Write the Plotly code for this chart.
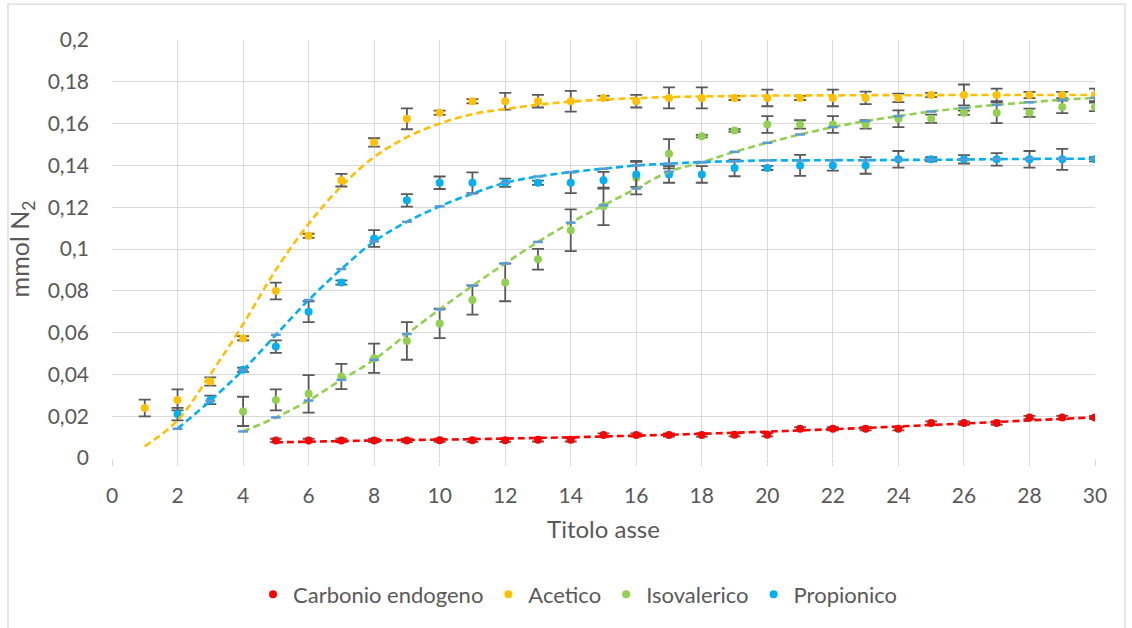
import plotly.graph_objects as go

# ---------------- data ----------------
x_red = list(range(5, 31))
red = [0.0084, 0.0084, 0.0084, 0.0084, 0.0084, 0.0085, 0.0085, 0.0085, 0.0087, 0.0087,
       0.011, 0.011, 0.011, 0.011, 0.0111, 0.0111, 0.014, 0.014, 0.014, 0.014,
       0.0167, 0.0167, 0.0167, 0.0194, 0.0194, 0.0194]
red_err = [0.0008] * 26
red_fit = [0.0075, 0.0078, 0.0081, 0.0084, 0.0086, 0.0088, 0.009, 0.0093, 0.0096, 0.0099,
           0.0103, 0.0107, 0.0111, 0.0116, 0.0121, 0.0126, 0.0132, 0.0138, 0.0144, 0.0151,
           0.0158, 0.0165, 0.0172, 0.018, 0.0187, 0.0195]

x_ac = list(range(1, 31))
acetico = [0.0239, 0.0278, 0.0366, 0.0573, 0.0799, 0.1063, 0.1329, 0.151, 0.1623, 0.1652,
           0.1707, 0.1707, 0.1707, 0.1707, 0.1723, 0.1707, 0.1723, 0.1723, 0.1723, 0.1723,
           0.1723, 0.1723, 0.1723, 0.1723, 0.1737, 0.1737, 0.1737, 0.1737, 0.1737, 0.1737]
acetico_err = [0.004, 0.005, 0.002, 0.001, 0.004, 0.001, 0.003, 0.002, 0.005, 0.001,
               0.001, 0.004, 0.003, 0.005, 0.001, 0.003, 0.005, 0.005, 0.001, 0.004,
               0.001, 0.004, 0.003, 0.002, 0.001, 0.005, 0.003, 0.0015, 0.0015, 0.003]
acetico_fit = [0.0056, 0.018, 0.040, 0.064, 0.090, 0.112, 0.130, 0.144, 0.1535, 0.160,
               0.1645, 0.167, 0.169, 0.1705, 0.1715, 0.1722, 0.1727, 0.173, 0.1732, 0.1734,
               0.1735, 0.1735, 0.1736, 0.1736, 0.1736, 0.1737, 0.1737, 0.1737, 0.1737, 0.1737]

x_iso = list(range(4, 31))
isovalerico = [0.0223, 0.0278, 0.0307, 0.039, 0.0477, 0.056, 0.0644, 0.0756, 0.084, 0.0951,
               0.109, 0.1204, 0.1341, 0.1456, 0.154, 0.1567, 0.1596, 0.1596, 0.1596, 0.1596,
               0.1623, 0.1623, 0.1652, 0.1652, 0.1652, 0.168, 0.168]
isovalerico_err = [0.007, 0.005, 0.009, 0.006, 0.007, 0.009, 0.007, 0.007, 0.009, 0.005,
                   0.010, 0.009, 0.008, 0.007, 0.0006, 0.0006, 0.004, 0.002, 0.004, 0.002,
                   0.004, 0.002, 0.001, 0.005, 0.002, 0.003, 0.002]
isovalerico_fit = [0.0127, 0.0194, 0.0275, 0.0374, 0.047, 0.0593, 0.0711, 0.0824, 0.0931, 0.1034,
                   0.1126, 0.1209, 0.1289, 0.137, 0.1415, 0.1465, 0.1508, 0.1548, 0.1583, 0.1612,
                   0.1636, 0.1658, 0.1675, 0.169, 0.1702, 0.1714, 0.1723]

x_pro = list(range(2, 31))
propionico = [0.021, 0.0278, 0.0422, 0.0533, 0.070, 0.084, 0.105, 0.1233, 0.1317, 0.1317,
              0.1317, 0.1317, 0.1317, 0.1329, 0.1357, 0.1357, 0.1357, 0.1388, 0.1388, 0.140,
              0.140, 0.140, 0.1429, 0.1429, 0.1429, 0.1429, 0.1429, 0.1429, 0.1429]
propionico_err = [0.003, 0.002, 0.001, 0.003, 0.005, 0.001, 0.004, 0.003, 0.003, 0.005,
                  0.002, 0.001, 0.005, 0.004, 0.006, 0.004, 0.004, 0.004, 0.001, 0.005,
                  0.0025, 0.004, 0.004, 0.001, 0.002, 0.003, 0.004, 0.005, 0.001]
propionico_fit = [0.014, 0.0274, 0.0421, 0.0589, 0.0756, 0.0904, 0.1036, 0.113, 0.1204, 0.1265,
                  0.1317, 0.1347, 0.1368, 0.1384, 0.140, 0.1408, 0.1416, 0.142, 0.1424, 0.1424,
                  0.1425, 0.1425, 0.1426, 0.1427, 0.1428, 0.143, 0.1431, 0.1432, 0.1432]

x_ticks = list(range(0, 31, 2))
y_ticks = [0, 0.02, 0.04, 0.06, 0.08, 0.1, 0.12, 0.14, 0.16, 0.18, 0.2]
y_ticktext = ["0", "0,02", "0,04", "0,06", "0,08", "0,1", "0,12", "0,14", "0,16", "0,18", "0,2"]

series_names = ["Carbonio endogeno", "Acetico", "Isovalerico", "Propionico"]
colors = ["#FF0000", "#FFC000", "#92D050", "#00B0F0"]

# ---------------- figure ----------------
FONT = "Lato"
GRAY = "#595959"
GRID = "#D9D9D9"

fig = go.Figure()

data_sets = [
    (x_red, red, red_err, red_fit),
    (x_ac, acetico, acetico_err, acetico_fit),
    (x_iso, isovalerico, isovalerico_err, isovalerico_fit),
    (x_pro, propionico, propionico_err, propionico_fit),
]

for (xs, ys, errs, fit), name, col in zip(data_sets, series_names, colors):
    fig.add_trace(go.Scatter(
        x=xs, y=ys, mode="markers", name=name,
        marker=dict(color=col, size=8),
        error_y=dict(type="data", array=errs, visible=True,
                     color=GRAY, thickness=1.8, width=6),
    ))

for (xs, ys, errs, fit), name, col in zip(data_sets, series_names, colors):
    show_mk = name in ("Isovalerico", "Propionico")
    fig.add_trace(go.Scatter(
        x=xs, y=fit, mode="lines+markers" if show_mk else "lines",
        showlegend=False, hoverinfo="skip",
        line=dict(color=col, width=2.6, dash="7px,4px", shape="spline"),
        marker=dict(symbol="line-ew", size=7,
                    line=dict(color="#5B9BD5", width=2.5)),
    ))

L, R, T, B = 112, 37, 40, 168
W, H = 1132, 628
pw, ph = W - L - R, H - T - B

fig.update_layout(
    width=W, height=H,
    margin=dict(l=L, r=R, t=T, b=B, pad=0),
    paper_bgcolor="white", plot_bgcolor="white",
    font=dict(family=FONT, color=GRAY, size=20),
    showlegend=True,
    legend=dict(orientation="h", x=(578 - L) / pw, xanchor="center",
                y=(H - B - 597) / ph, yanchor="middle",
                font=dict(size=22, color=GRAY, family=FONT),
                itemwidth=30, traceorder="normal"),
    xaxis=dict(range=[0, 30], tickvals=x_ticks, showgrid=True, gridcolor=GRID,
               gridwidth=1.3, zeroline=False, showline=False,
               ticks="outside", ticklen=7, tickcolor=GRID, tickwidth=1.3,
               ticklabelstandoff=12,
               tickfont=dict(size=21, color=GRAY, family=FONT),
               title=dict(text="Titolo asse", font=dict(size=24, color=GRAY, family=FONT),
                          standoff=14)),
    yaxis=dict(range=[0, 0.2], tickvals=y_ticks, ticktext=y_ticktext, showgrid=True,
               gridcolor=GRID, gridwidth=1.3, zeroline=False, showline=False,
               ticks="", ticklabelstandoff=22,
               tickfont=dict(size=21, color=GRAY, family=FONT),
               title=dict(text="mmol N<sub>2</sub>", font=dict(size=25, color=GRAY, family=FONT),
                          standoff=10)),
)

# outer chart border (light gray frame)
fig.add_shape(type="rect", xref="paper", yref="paper",
              x0=(8 - L) / pw, x1=(1125 - L) / pw,
              y0=(H - B - 700) / ph, y1=(H - B - 4) / ph,
              line=dict(color=GRID, width=1.3), fillcolor="rgba(0,0,0,0)", layer="below")

fig.write_html("out.html", config={"displayModeBar": False},
               post_script="document.body.style.margin='0';")
